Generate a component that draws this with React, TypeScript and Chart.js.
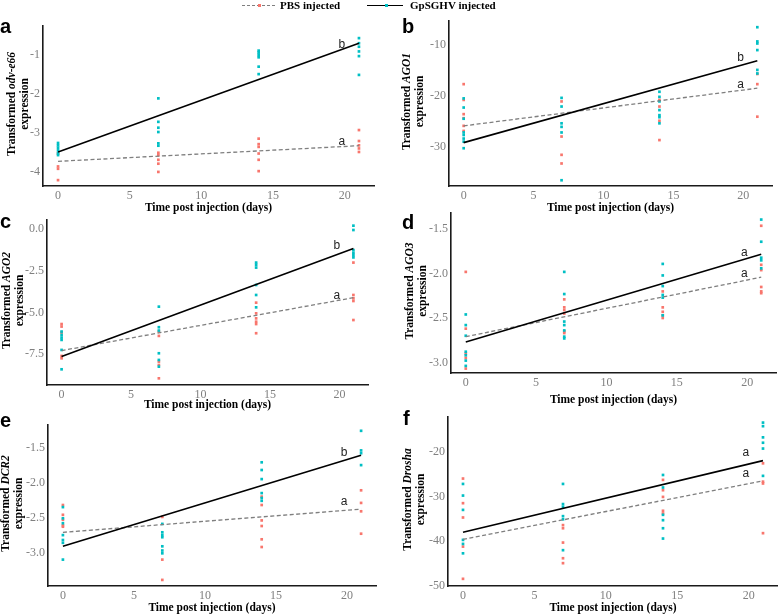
import { useEffect, useRef } from "react";
import { Chart, registerables } from "chart.js";

Chart.register(...registerables);

// ---------- shared ----------
const days = [0, 7, 14, 21];
const fitDays = [0, 21];
const xTicks = [0, 5, 10, 15, 20];
const xTickLabels = ["0", "5", "10", "15", "20"];
const xTitle = "Time post injection (days)";
const legendLabels = ["PBS injected", "GpSGHV injected"];
const letterDay = 19.8;

// ---------- a: odv-e66 ----------
const odvPbs = [
  [-3.52, -3.85, -3.91, -4.2],
  [-3.5, -3.56, -3.68, -3.78, -3.99],
  [-3.14, -3.28, -3.35, -3.52, -3.68, -3.97],
  [-2.92, -3.2, -3.31, -3.39, -3.48],
];
const odvVirus = [
  [-3.25, -3.31, -3.37, -3.44, -3.51, -3.56],
  [-2.11, -2.71, -2.86, -2.97, -3.26, -3.32],
  [-0.89, -0.94, -1.0, -1.06, -1.3, -1.49],
  [-0.57, -0.7, -0.79, -0.91, -1.03, -1.51],
];
const odvPbsFit = [-3.72, -3.32];
const odvVirusFit = [-3.48, -0.7];
const odvTicks = [-4, -3, -2, -1];
const odvTickLabels = ["-4", "-3", "-2", "-1"];
const odvLetters = ["a", "b"];
const odvLetterY = [-3.22, -0.73];

// ---------- b: AGO1 ----------
const ago1Pbs = [
  [-17.7, -20.8, -23.6, -24.4, -25.9, -26.9],
  [-21.1, -28.0, -31.6, -33.3],
  [-20.8, -22.1, -24.9, -28.7],
  [-15.7, -17.7, -24.1],
];
const ago1Virus = [
  [-20.5, -22.3, -24.5, -27.2, -27.7, -28.4, -29.0, -30.3],
  [-20.4, -22.1, -25.4, -26.1, -27.2, -36.6],
  [-19.2, -20.2, -21.1, -22.8, -23.8, -24.2, -25.4],
  [-6.5, -9.3, -9.7, -11.0, -14.9, -15.6],
];
const ago1PbsFit = [-25.9, -18.5];
const ago1VirusFit = [-29.2, -13.1];
const ago1Ticks = [-30, -20, -10];
const ago1TickLabels = ["-30", "-20", "-10"];
const ago1Letters = ["a", "b"];
const ago1LetterY = [-17.9, -12.5];

// ---------- c: AGO2 ----------
const ago2Pbs = [
  [-5.69, -5.84, -6.2, -7.6, -7.74],
  [-6.14, -6.4, -7.94, -8.14, -8.94],
  [-4.41, -5.05, -5.35, -5.55, -5.69, -6.24],
  [-2.01, -3.95, -4.15, -4.31, -5.45],
];
const ago2Virus = [
  [-6.14, -6.34, -6.5, -6.64, -7.24, -8.4],
  [-4.65, -5.88, -6.08, -7.44, -7.84, -8.24],
  [-2.01, -2.15, -2.31, -3.35, -3.95, -4.69],
  [0.2, -0.06, -1.26, -1.42, -1.56, -1.7],
];
const ago2PbsFit = [-7.28, -4.11];
const ago2VirusFit = [-7.64, -1.16];
const ago2Ticks = [-7.5, -5, -2.5, 0];
const ago2TickLabels = ["-7.5", "-5.0", "-2.5", "0.0"];
const ago2Letters = ["a", "b"];
const ago2LetterY = [-3.99, -1.02];

// ---------- d: AGO3 ----------
const ago3Pbs = [
  [-1.98, -2.62, -2.9, -2.95, -3.07],
  [-2.29, -2.38, -2.41, -2.45, -2.65, -2.67],
  [-2.2, -2.38, -2.43, -2.47, -2.5],
  [-1.46, -1.9, -1.96, -2.15, -2.2, -2.22],
];
const ago3Virus = [
  [-2.46, -2.58, -2.7, -2.88, -2.92, -2.98, -3.04],
  [-1.98, -2.23, -2.54, -2.58, -2.64, -2.71, -2.73],
  [-1.89, -2.02, -2.14, -2.24, -2.27, -2.47],
  [-1.39, -1.64, -1.82, -1.85, -1.94],
];
const ago3PbsFit = [-2.71, -2.04];
const ago3VirusFit = [-2.77, -1.78];
const ago3Ticks = [-3, -2.5, -2, -1.5];
const ago3TickLabels = ["-3.0", "-2.5", "-2.0", "-1.5"];
const ago3Letters = ["a", "a"];
const ago3LetterY = [-2.0, -1.76];

// ---------- e: DCR2 ----------
const dcr2Pbs = [
  [-2.31, -2.45, -2.52, -2.6, -2.62],
  [-2.48, -3.09, -3.38],
  [-2.19, -2.31, -2.53, -2.61, -2.8, -2.91],
  [-2.1, -2.28, -2.4, -2.72],
];
const dcr2Virus = [
  [-2.34, -2.5, -2.57, -2.74, -2.81, -2.85, -3.09],
  [-2.58, -2.7, -2.74, -2.77, -2.9, -2.96, -3.0],
  [-1.7, -1.81, -1.94, -2.14, -2.21, -2.25],
  [-1.25, -1.53, -1.57, -1.74],
];
const dcr2PbsFit = [-2.7, -2.37];
const dcr2VirusFit = [-2.9, -1.6];
const dcr2Ticks = [-3, -2.5, -2, -1.5];
const dcr2TickLabels = ["-3.0", "-2.5", "-2.0", "-1.5"];
const dcr2Letters = ["a", "b"];
const dcr2LetterY = [-2.26, -1.56];

// ---------- f: Drosha ----------
const droshaPbs = [
  [-26, -31.5, -34.7, -41.2, -48.4],
  [-36.4, -37.1, -40.3, -43.8, -44.9],
  [-26.3, -28.6, -30.1, -33.2, -33.8],
  [-22.6, -26.7, -27.1, -38.2],
];
const droshaVirus = [
  [-27.2, -29.8, -33, -39.7, -40.6, -42.7],
  [-27.2, -31.7, -32.3, -34.4, -35.1, -42],
  [-25.2, -28, -34.1, -35.3, -37.1, -39.4],
  [-13.5, -14.3, -16.8, -18, -19.3, -25.4],
];
const droshaPbsFit = [-39.6, -26.5];
const droshaVirusFit = [-38, -22];
const droshaTicks = [-50, -40, -30, -20];
const droshaTickLabels = ["-50", "-40", "-30", "-20"];
const droshaLetters = ["a", "a"];
const droshaLetterY = [-25.0, -20.2];

// ---------- style ----------
const PBS_COLOR = "#F8766D";
const VIRUS_COLOR = "#00BFC4";
const SERIF = '"Liberation Serif", "Times New Roman", serif';
const SANS = '"Liberation Sans", Arial, sans-serif';

type Box = { left: number; top: number; width: number; height: number };
type Plot = { left: number; top: number; right: number; bottom: number };

interface PanelDef {
  letter: string;
  gene: string;
  pbs: number[][];
  virus: number[][];
  pbsFit: number[];
  virusFit: number[];
  ticks: number[];
  tickLabels: string[];
  groupLetters: string[];
  groupLetterY: number[];
  yMin: number;
  yMax: number;
  canvas: Box;
  plot: Plot;
  letterPos: [number, number];
  titleX: number;
  xTitleY: number;
}

const panels: PanelDef[] = [
  {
    letter: "a", gene: "odv-e66", pbs: odvPbs, virus: odvVirus, pbsFit: odvPbsFit, virusFit: odvVirusFit,
    ticks: odvTicks, tickLabels: odvTickLabels, groupLetters: odvLetters, groupLetterY: odvLetterY,
    yMin: -4.35, yMax: -0.26,
    canvas: { left: 0, top: 0, width: 390, height: 216 },
    plot: { left: 43, top: 26, right: 374, bottom: 186 },
    letterPos: [0, 33], titleX: 12.5, xTitleY: 208,
  },
  {
    letter: "b", gene: "AGO1", pbs: ago1Pbs, virus: ago1Virus, pbsFit: ago1PbsFit, virusFit: ago1VirusFit,
    ticks: ago1Ticks, tickLabels: ago1TickLabels, groupLetters: ago1Letters, groupLetterY: ago1LetterY,
    yMin: -37.73, yMax: -5.28,
    canvas: { left: 390, top: 0, width: 392, height: 216 },
    plot: { left: 449, top: 21, right: 772, bottom: 186 },
    letterPos: [402, 33], titleX: 407.5, xTitleY: 208,
  },
  {
    letter: "c", gene: "AGO2", pbs: ago2Pbs, virus: ago2Virus, pbsFit: ago2PbsFit, virusFit: ago2VirusFit,
    ticks: ago2Ticks, tickLabels: ago2TickLabels, groupLetters: ago2Letters, groupLetterY: ago2LetterY,
    yMin: -9.34, yMax: 0.54,
    canvas: { left: 0, top: 195, width: 390, height: 217 },
    plot: { left: 47, top: 220, right: 368, bottom: 385 },
    letterPos: [0, 228], titleX: 7, xTitleY: 406,
  },
  {
    letter: "d", gene: "AGO3", pbs: ago3Pbs, virus: ago3Virus, pbsFit: ago3PbsFit, virusFit: ago3VirusFit,
    ticks: ago3Ticks, tickLabels: ago3TickLabels, groupLetters: ago3Letters, groupLetterY: ago3LetterY,
    yMin: -3.12, yMax: -1.316,
    canvas: { left: 390, top: 195, width: 392, height: 217 },
    plot: { left: 451, top: 213, right: 776, bottom: 373 },
    letterPos: [402, 229], titleX: 410.5, xTitleY: 400,
  },
  {
    letter: "e", gene: "DCR2", pbs: dcr2Pbs, virus: dcr2Virus, pbsFit: dcr2PbsFit, virusFit: dcr2VirusFit,
    ticks: dcr2Ticks, tickLabels: dcr2TickLabels, groupLetters: dcr2Letters, groupLetterY: dcr2LetterY,
    yMin: -3.467, yMax: -1.167,
    canvas: { left: 0, top: 395, width: 390, height: 221 },
    plot: { left: 48, top: 425, right: 376, bottom: 586 },
    letterPos: [0, 427], titleX: 6, xTitleY: 608,
  },
  {
    letter: "f", gene: "Drosha", pbs: droshaPbs, virus: droshaVirus, pbsFit: droshaPbsFit, virusFit: droshaVirusFit,
    ticks: droshaTicks, tickLabels: droshaTickLabels, groupLetters: droshaLetters, groupLetterY: droshaLetterY,
    yMin: -50, yMax: -12.25,
    canvas: { left: 390, top: 395, width: 392, height: 221 },
    plot: { left: 448, top: 417, right: 780, bottom: 586 },
    letterPos: [403, 425], titleX: 408, xTitleY: 608,
  },
];

const TITLE_SIZE = 11.5;
const TITLE_LH = TITLE_SIZE * 1.2;
const TICK_SIZE = 12;

function toPoints(groups: number[][]) {
  return groups.flatMap((vals, i) => vals.map((v) => ({ x: days[i], y: v })));
}
function toFit(fit: number[]) {
  return fit.map((v, i) => ({ x: fitDays[i], y: v }));
}

function makeDecorPlugin(p: PanelDef) {
  return {
    id: "panelDecor" + p.letter,
    afterDraw(chart: any) {
      const ctx: CanvasRenderingContext2D = chart.ctx;
      const xs = chart.scales.x;
      const ys = chart.scales.y;
      const ca = chart.chartArea;
      // panel letter
      ctx.save();
      ctx.fillStyle = "#000";
      ctx.font = `bold 20px ${SANS}`;
      ctx.textAlign = "left";
      ctx.textBaseline = "alphabetic";
      ctx.fillText(p.letter, p.letterPos[0] - p.canvas.left, p.letterPos[1] - p.canvas.top);
      ctx.restore();

      // y title (two lines, gene italic)
      ctx.save();
      ctx.fillStyle = "#000";
      ctx.translate(p.titleX - p.canvas.left, (ca.top + ca.bottom) / 2 - 2);
      ctx.rotate(-Math.PI / 2);
      const f1 = `bold ${TITLE_SIZE}px ${SERIF}`;
      const f2 = `italic bold ${TITLE_SIZE}px ${SERIF}`;
      const pre = "Transformed ";
      ctx.font = f1;
      const w1 = ctx.measureText(pre).width;
      ctx.font = f2;
      const w2 = ctx.measureText(p.gene).width;
      const start = -(w1 + w2) / 2;
      ctx.textBaseline = "middle";
      ctx.textAlign = "left";
      ctx.font = f1;
      ctx.fillText(pre, start, 0);
      ctx.font = f2;
      ctx.fillText(p.gene, start + w1, 0);
      ctx.font = f1;
      ctx.textAlign = "center";
      ctx.fillText("expression", 0, 13);
      ctx.restore();

      // group letters
      ctx.save();
      ctx.fillStyle = "#222";
      ctx.font = `12px ${SANS}`;
      ctx.textAlign = "center";
      ctx.textBaseline = "middle";
      p.groupLetters.forEach((t, i) => {
        ctx.fillText(t, xs.getPixelForValue(letterDay), ys.getPixelForValue(p.groupLetterY[i]));
      });
      ctx.restore();
    },
  };
}

function Panel({ p }: { p: PanelDef }) {
  const ref = useRef<HTMLCanvasElement | null>(null);
  useEffect(() => {
    if (!ref.current) return;
    const c = p.canvas;
    const padTop = p.plot.top - c.top;
    const padRight = c.left + c.width - p.plot.right;
    const yW = p.plot.left - c.left;
    const xH = c.top + c.height - p.plot.bottom;
    const titlePadBottom = Math.max(0, c.top + c.height - p.xTitleY - TITLE_LH / 2);
    const chart = new Chart(ref.current, {
      type: "scatter",
      data: {
        datasets: [
          {
            label: legendLabels[1] + " fit",
            data: toFit(p.virusFit),
            showLine: true,
            borderColor: "#000",
            borderWidth: 1.6,
            pointRadius: 0,
            order: 0,
          },
          {
            label: legendLabels[0] + " fit",
            data: toFit(p.pbsFit),
            showLine: true,
            borderColor: "#7f7f7f",
            borderWidth: 1.3,
            borderDash: [4, 2.5],
            pointRadius: 0,
            order: 1,
          },
          {
            label: legendLabels[1],
            data: toPoints(p.virus),
            backgroundColor: VIRUS_COLOR,
            borderWidth: 0,
            pointStyle: "rect",
            pointRadius: 1.9,
            order: 2,
          },
          {
            label: legendLabels[0],
            data: toPoints(p.pbs),
            backgroundColor: PBS_COLOR,
            borderWidth: 0,
            pointStyle: "rect",
            pointRadius: 1.9,
            order: 3,
          },
        ] as any,
      },
      options: {
        responsive: true,
        maintainAspectRatio: false,
        animation: false,
        events: [],
        layout: { padding: { left: 0, top: padTop, right: padRight, bottom: 0 } },
        plugins: { legend: { display: false }, tooltip: { enabled: false } },
        scales: {
          x: {
            type: "linear",
            min: -1.05,
            max: 22.05,
            grid: { display: false, drawTicks: false },
            border: { display: true, color: "#1a1a1a", width: 1.6 },
            afterBuildTicks: (s: any) => {
              s.ticks = xTicks.map((v) => ({ value: v }));
            },
            afterFit: (s: any) => {
              s.height = xH;
            },
            ticks: {
              padding: 3,
              color: "#808080",
              font: { family: SERIF, size: TICK_SIZE },
              callback: (_v: any, i: number) => xTickLabels[i],
            },
            title: {
              display: true,
              text: xTitle,
              color: "#000",
              font: { family: SERIF, size: TITLE_SIZE, weight: "bold" },
              padding: { top: 0, bottom: titlePadBottom },
            },
          },
          y: {
            type: "linear",
            min: p.yMin,
            max: p.yMax,
            grid: { display: false, drawTicks: false },
            border: { display: true, color: "#1a1a1a", width: 1.6 },
            afterBuildTicks: (s: any) => {
              s.ticks = p.ticks.map((v) => ({ value: v }));
            },
            afterFit: (s: any) => {
              s.width = yW;
            },
            ticks: {
              padding: 3,
              color: "#808080",
              font: { family: SERIF, size: TICK_SIZE },
              callback: (_v: any, i: number) => p.tickLabels[i],
            },
          },
        },
      } as any,
      plugins: [makeDecorPlugin(p)],
    });
    return () => chart.destroy();
  }, [p]);
  return (
    <div
      style={{
        position: "absolute",
        left: p.canvas.left,
        top: p.canvas.top,
        width: p.canvas.width,
        height: p.canvas.height,
      }}
    >
      <canvas ref={ref} />
    </div>
  );
}

function Legend() {
  const text: React.CSSProperties = {
    position: "absolute",
    top: -2,
    lineHeight: "14px",
    fontFamily: SERIF,
    fontWeight: "bold",
    fontSize: 11,
    color: "#000",
    whiteSpace: "nowrap",
  };
  const dot = (left: number, color: string): React.CSSProperties => ({
    position: "absolute",
    left: left - 1.5,
    top: 3.5,
    width: 3,
    height: 3,
    background: color,
  });
  return (
    <div style={{ position: "absolute", left: 0, top: 0, width: 778, height: 14, zIndex: 2 }}>
      <div style={{ position: "absolute", left: 242, top: 4.5, width: 33, height: 0, borderTop: "1.3px dashed #7f7f7f" }} />
      <div style={dot(259, PBS_COLOR)} />
      <span style={{ ...text, left: 280 }}>{legendLabels[0]}</span>
      <div style={{ position: "absolute", left: 367, top: 4.5, width: 36, height: 0, borderTop: "1.5px solid #000" }} />
      <div style={dot(386, VIRUS_COLOR)} />
      <span style={{ ...text, left: 410 }}>{legendLabels[1]}</span>
    </div>
  );
}

export default function App() {
  return (
    <div
      style={{
        position: "absolute",
        left: 0,
        top: 0,
        width: 778,
        height: 614,
        overflow: "hidden",
        background: "#fff",
      }}
    >
      {panels.map((p) => (
        <Panel key={p.letter} p={p} />
      ))}
      <Legend />
    </div>
  );
}
